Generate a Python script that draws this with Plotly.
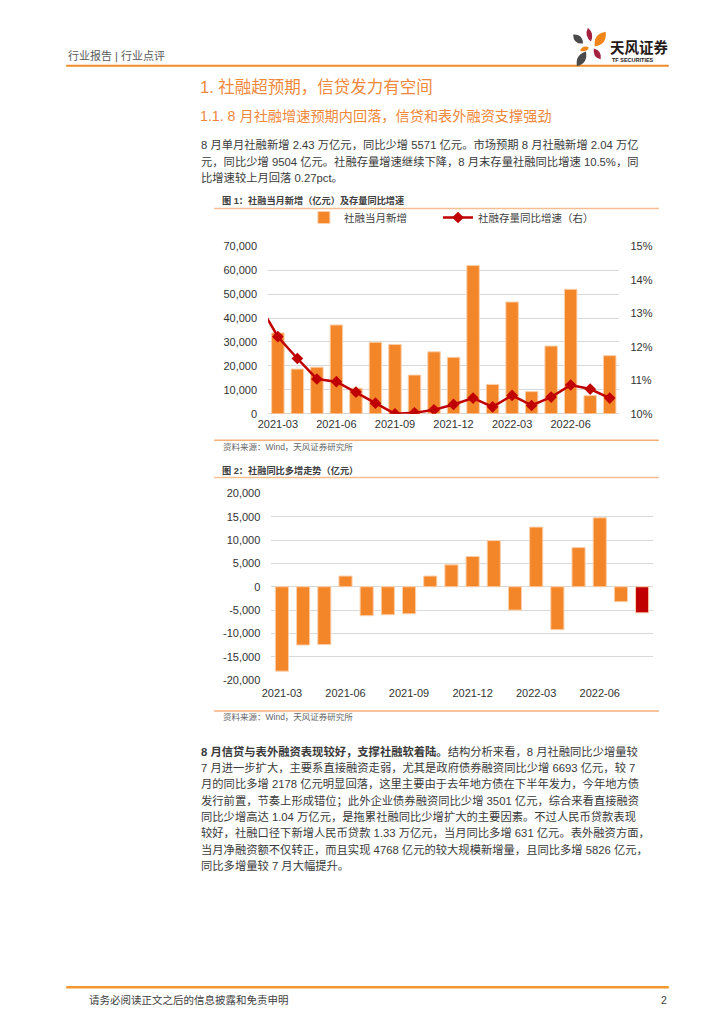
import math
import plotly.graph_objects as go

W, H = 724, 1024


def px(x):
    return x / W


def py(y):
    return 1 - y / H


# ---------------- data ----------------
months1 = ["2021-02", "2021-03", "2021-04", "2021-05", "2021-06", "2021-07", "2021-08",
           "2021-09", "2021-10", "2021-11", "2021-12", "2022-01", "2022-02", "2022-03",
           "2022-04", "2022-05", "2022-06", "2022-07", "2022-08"]
months2 = months1[1:]
new_tsf = [33800, 18700, 19500, 37100, 10700, 29900, 29000, 16200, 25900, 23600,
           61900, 12300, 46700, 9300, 28300, 52000, 7600, 24300]
stock_growth = [13.3, 12.3, 11.65, 11.04, 10.96, 10.65, 10.32, 10.0, 10.03, 10.12,
                10.28, 10.47, 10.21, 10.55, 10.25, 10.5, 10.86, 10.74, 10.47]
yoy_change = [-18100, -12500, -12400, 2300, -6200, -6000, -5800, 2300, 4700, 6500,
              9900, -5000, 12800, -9200, 8400, 14800, -3200, -5600]
x_ticks = ["2021-03", "2021-06", "2021-09", "2021-12", "2022-03", "2022-06"]
y1_ticks = [0, 10000, 20000, 30000, 40000, 50000, 60000, 70000]
y1_text = ["0", "10,000", "20,000", "30,000", "40,000", "50,000", "60,000", "70,000"]
y2_ticks = [10, 11, 12, 13, 14, 15]
y2_text = ["10%", "11%", "12%", "13%", "14%", "15%"]
y3_ticks = [-20000, -15000, -10000, -5000, 0, 5000, 10000, 15000, 20000]
y3_text = ["-20,000", "-15,000", "-10,000", "-5,000", "0", "5,000", "10,000", "15,000", "20,000"]

ORANGE = "#F4862A"
RED = "#C00000"
GRID = "#D9D9D9"
TICK_FONT = dict(family="Liberation Sans, Arial, sans-serif", size=11, color="#333333")
CJK = "Liberation Sans, Noto Sans CJK SC, sans-serif"

fig = go.Figure()

fig.add_trace(go.Bar(
    x=months2, y=new_tsf, xaxis="x", yaxis="y", width=0.64,
    marker=dict(color=ORANGE, line=dict(color="#FAD0AC", width=1)),
    name="社融当月新增", legend="legend"))
fig.add_trace(go.Scatter(
    x=months1, y=stock_growth, xaxis="x", yaxis="y2", mode="lines+markers",
    line=dict(color=RED, width=2.5),
    marker=dict(symbol="diamond", size=9, color=RED),
    name="社融存量同比增速（右）", legend="legend2"))

bar2_colors = [ORANGE] * (len(yoy_change) - 1) + [RED]
fig.add_trace(go.Bar(
    x=months2, y=yoy_change, xaxis="x2", yaxis="y3", width=0.62,
    marker=dict(color=bar2_colors, line=dict(color="#FAD0AC", width=1)),
    showlegend=False))

# ---------------- text ----------------
p1 = [
    "8 月单月社融新增 2.43 万亿元，同比少增 5571 亿元。市场预期 8 月社融新增 2.04 万亿",
    "元，同比少增 9504 亿元。社融存量增速继续下降，8 月末存量社融同比增速 10.5%，同",
    "比增速较上月回落 0.27pct。",
]
p2 = [
    "<b>8 月信贷与表外融资表现较好，支撑社融软着陆。</b>结构分析来看，8 月社融同比少增量较",
    "7 月进一步扩大，主要系直接融资走弱，尤其是政府债券融资同比少增 6693 亿元，较 7",
    "月的同比多增 2178 亿元明显回落，这里主要由于去年地方债在下半年发力，今年地方债",
    "发行前置，节奏上形成错位；此外企业债券融资同比少增 3501 亿元，综合来看直接融资",
    "同比少增高达 1.04 万亿元，是拖累社融同比少增扩大的主要因素。不过人民币贷款表现",
    "较好，社融口径下新增人民币贷款 1.33 万亿元，当月同比多增 631 亿元。表外融资方面，",
    "当月净融资额不仅转正，而且实现 4768 亿元的较大规模新增量，且同比多增 5826 亿元，",
    "同比多增量较 7 月大幅提升。",
]

ann = []


def text(x, y, s, size, color="#333333", family=CJK, anchor="left"):
    ann.append(dict(x=px(x), y=py(y), xref="paper", yref="paper", text=s,
                    showarrow=False, xanchor=anchor, yanchor="middle",
                    font=dict(family=family, size=size, color=color)))


text(57, 50, "行业报告 | 行业点评", 11, "#595959")
text(606, 41, "<b>天风证券</b>", 14.5, "#231815", "Noto Sans CJK SC")
text(608, 54.5, "<b>TF SECURITIES</b>", 5.5, "#231815", "Liberation Sans")
text(191, 81.5, "1. 社融超预期，信贷发力有空间", 16.5, "#F0883A")
text(191, 111, "1.1. 8 月社融增速预期内回落，信贷和表外融资支撑强劲", 14.2, "#F0883A")
for i, line in enumerate(p1):
    text(192, 140.5 + i * 16.5, line, 11.3, "#3A3A3A")
text(213, 197, "<b>图 1：社融当月新增（亿元）及存量同比增速</b>", 9.2, "#404040")
text(214, 446, "资料来源：Wind，天风证券研究所", 8.5, "#666666")
text(213, 470, "<b>图 2：社融同比多增走势（亿元）</b>", 9.2, "#404040")
text(214, 719.5, "资料来源：Wind，天风证券研究所", 8.5, "#666666")
for i, line in enumerate(p2):
    text(192, 754 + i * 16.5, line, 11.3, "#3A3A3A")
text(78, 1006, "请务必阅读正文之后的信息披露和免责申明", 10.5, "#404040")
text(668, 1006, "2", 10.5, "#404040", anchor="right")

# ---------------- shapes ----------------
shapes = []


def hline(x0, x1, y, color, width):
    shapes.append(dict(type="line", xref="paper", yref="paper", x0=px(x0), x1=px(x1),
                       y0=py(y), y1=py(y), line=dict(color=color, width=width)))


hline(57, 668, 60.5, "#F08C28", 2)
hline(207, 658, 205, "#F6BE92", 1.5)
hline(207, 658, 439.5, "#F6B07A", 1.5)
hline(207, 658, 477, "#F6BE92", 1.5)
hline(207, 658, 713.3, "#F6B07A", 1.5)
hline(57, 668, 993, "#F29A2E", 2.5)


def petal(p1_, p2_, w, color):
    (x1, y1), (x2, y2) = p1_, p2_
    mx, my = (x1 + x2) / 2, (y1 + y2) / 2
    dx, dy = x2 - x1, y2 - y1
    L = math.hypot(dx, dy)
    nx, ny = -dy / L, dx / L
    c1 = (mx + nx * w, my + ny * w)
    c2 = (mx - nx * w, my - ny * w)
    path = (f"M {px(x1)},{py(y1)} Q {px(c1[0])},{py(c1[1])} {px(x2)},{py(y2)} "
            f"Q {px(c2[0])},{py(c2[1])} {px(x1)},{py(y1)} Z")
    shapes.append(dict(type="path", xref="paper", yref="paper", path=path,
                       fillcolor=color, line=dict(width=0)))


petal((586, 22), (589, 36), 5.5, "#A3203F")
petal((593, 41), (604, 26), 9, "#F08519")
petal((571, 29), (581, 38), 7, "#4A4A4A")
petal((578, 45), (587, 42), 4.5, "#F08519")
petal((592, 43), (599, 54), 6, "#A3203F")
petal((584, 46), (575, 61), 8, "#4A4A4A")

legend_common = dict(orientation="h", yanchor="middle", xanchor="left",
                     bgcolor="rgba(0,0,0,0)", itemwidth=30,
                     font=dict(family="Noto Sans CJK SC", size=10.5, color="#404040"))

fig.update_layout(
    width=W, height=H, margin=dict(l=0, r=0, t=0, b=0),
    paper_bgcolor="white", plot_bgcolor="white",
    showlegend=True,
    legend=dict(x=px(298), y=py(214), **legend_common),
    legend2=dict(x=px(434), y=py(214), **legend_common),
    xaxis=dict(domain=[px(261.7), px(618)], anchor="y", type="category",
               categoryorder="array", categoryarray=months1, range=[0.5, 18.5],
               tickmode="array", tickvals=x_ticks, ticktext=x_ticks,
               showgrid=False, showline=False, ticks="", tickfont=TICK_FONT,
               ticklabelstandoff=2, fixedrange=True),
    yaxis=dict(domain=[py(412.7), py(243)], anchor="x", range=[0, 70000],
               tickmode="array", tickvals=y1_ticks, ticktext=y1_text,
               showgrid=True, gridcolor=GRID, gridwidth=1,
               zeroline=True, zerolinecolor=GRID, zerolinewidth=1,
               showline=False, ticks="", tickfont=TICK_FONT, ticklabelstandoff=10),
    yaxis2=dict(overlaying="y", side="right", anchor="x", range=[10, 15],
                tickmode="array", tickvals=y2_ticks, ticktext=y2_text,
                showgrid=False, zeroline=False, showline=False, ticks="",
                tickfont=TICK_FONT, ticklabelstandoff=10),
    xaxis2=dict(domain=[px(265), px(651.7)], anchor="y3", type="category",
                categoryorder="array", categoryarray=months2,
                tickmode="array", tickvals=x_ticks, ticktext=x_ticks,
                showgrid=False, showline=False, ticks="", tickfont=TICK_FONT,
                ticklabelstandoff=5),
    yaxis3=dict(domain=[py(682), py(493.3)], anchor="x2", range=[-20000, 20000],
                tickmode="array", tickvals=y3_ticks, ticktext=y3_text,
                showgrid=True, gridcolor=GRID, gridwidth=1,
                zeroline=True, zerolinecolor=GRID, zerolinewidth=1,
                showline=False, ticks="", tickfont=TICK_FONT, ticklabelstandoff=10),
    annotations=ann,
    shapes=shapes,
)

fig.write_html(
    "out.html",
    config={"displayModeBar": False},
    post_script="document.body.style.margin='0';document.body.style.overflow='hidden';",
)
